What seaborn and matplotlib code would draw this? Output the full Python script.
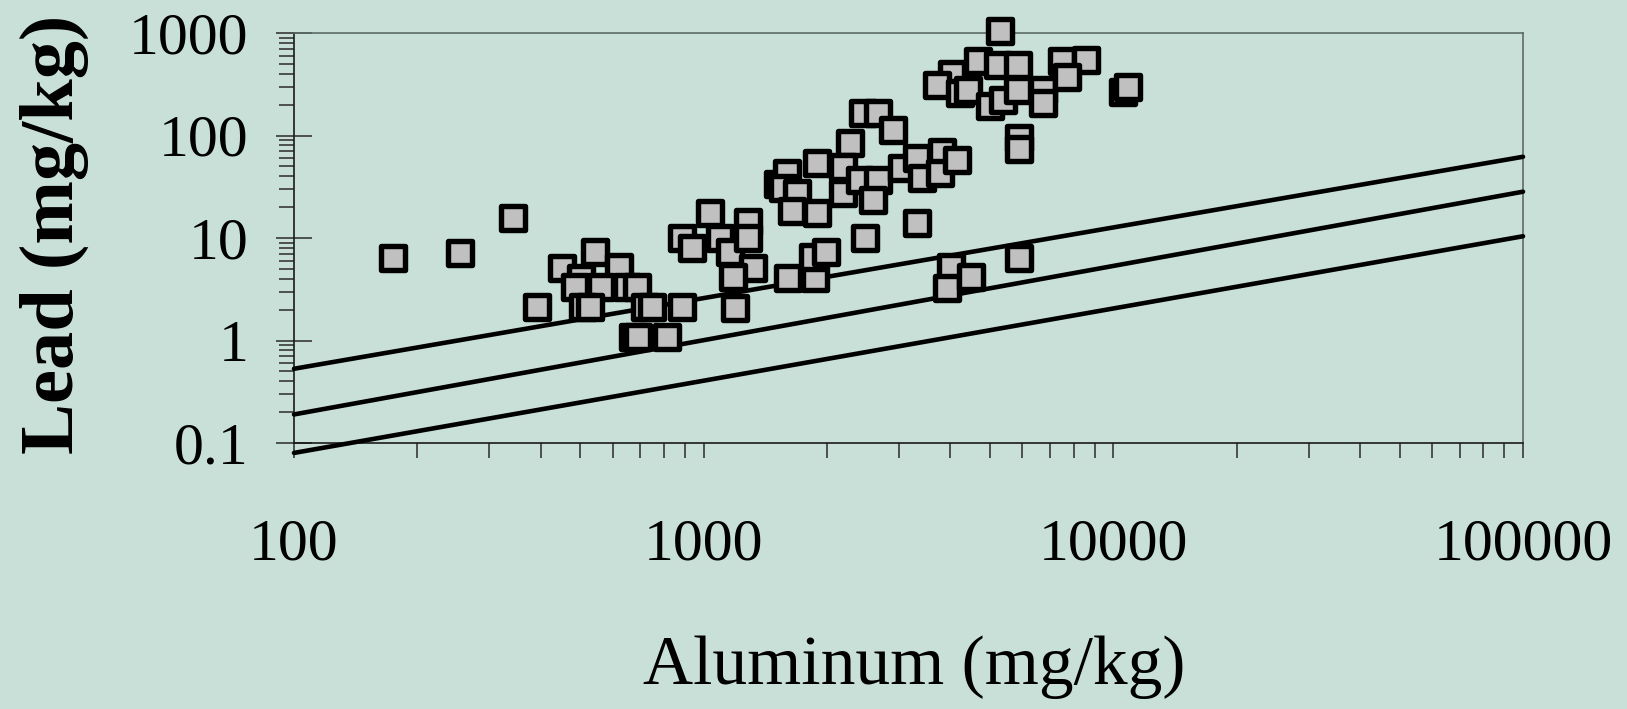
import matplotlib
matplotlib.use("Agg")
import matplotlib.pyplot as plt
import pandas as pd
import seaborn as sns
from matplotlib.markers import MarkerStyle
from matplotlib.ticker import FixedLocator, FixedFormatter, LogLocator, NullFormatter

# Soil samples: aluminum vs lead concentration (mg/kg)
aluminum = [174, 254, 342, 392, 450, 543, 621, 501, 485, 561, 507, 528, 649, 686,
            719, 748, 884, 672, 691, 812, 884, 935, 1036, 1096, 1159, 1285, 1285,
            1322, 1181, 1193, 1609, 1870, 1849, 1989, 2476, 3311, 4015, 3919, 4492,
            5892,
            1521, 1594, 1564, 1686, 1643, 1887, 1887, 2276, 2191, 2191, 2407, 2668,
            2594, 2452, 2668, 2902, 3043, 3311, 3405, 3810, 3774, 4146,
            5287, 4679, 4031, 3705, 4224, 4425, 4998, 5387, 5239, 5860, 5860, 6745,
            6745, 7511, 8595, 7691, 10573, 10875, 5892, 5892]
lead = [6.34, 7.14, 15.5, 2.12, 5.15, 7.22, 5.21, 4.10, 3.35, 3.35, 2.12, 2.12,
        3.35, 3.35, 2.12, 2.12, 2.12, 1.09, 1.09, 1.09, 9.94, 7.94, 17.5, 9.94,
        7.35, 14.3, 9.94, 5.10, 4.12, 2.08, 4.04, 4.04, 6.53, 7.22, 9.94, 13.9,
        5.27, 3.25, 4.12, 6.34,
        33.6, 42.8, 30.7, 27.3, 18.3, 17.4, 53.5, 83.9, 49.6, 27.3, 36.8, 36.8,
        23.5, 165, 165, 113, 48.2, 60.3, 38.5, 69.0, 43.1, 57.7,
        1046, 539, 398, 311, 258, 278, 194, 222, 487, 487, 275, 278, 206, 533,
        545, 375, 267, 299, 95, 74]

# Reference lines (power-law bounds) across the aluminum range
line_x = [100, 100000]
line_upper = [0.53, 62]
line_middle = [0.19, 28.3]
line_lower = [0.080, 10.4]

x_ticks = [100, 1000, 10000, 100000]
x_tick_labels = ["100", "1000", "10000", "100000"]
y_ticks = [0.1, 1, 10, 100, 1000]
y_tick_labels = ["0.1", "1", "10", "100", "1000"]

BG = "#C9E0D8"
sns.set_theme(style="ticks", rc={"axes.facecolor": BG, "figure.facecolor": BG})
plt.rcParams["font.family"] = ["Liberation Serif", "DejaVu Serif"]

W, H = 1627, 709
fig = plt.figure(figsize=(W / 100, H / 100), dpi=100)
ax = fig.add_axes([294 / W, 1 - 443 / H, 1229 / W, 410 / H])
ax.set_xscale("log")
ax.set_yscale("log")

for vals in (line_upper, line_middle, line_lower):
    sns.lineplot(x=line_x, y=vals, ax=ax, color="black", linewidth=3.3)
    ln = ax.lines[-1]
    ln.set_clip_on(False)
    ln.set_solid_capstyle("round")
    ln.set_zorder(3)

df = pd.DataFrame({"Aluminum": aluminum, "Lead": lead})
sns.scatterplot(data=df, x="Aluminum", y="Lead", ax=ax,
                marker=MarkerStyle("s", joinstyle="round"), s=320,
                color="#C0C0C0", edgecolor="black", linewidth=3.9,
                clip_on=False, zorder=5)

ax.set_xlim(100, 100000)
ax.set_ylim(0.1, 1000)

ax.xaxis.set_major_locator(FixedLocator(x_ticks))
ax.xaxis.set_major_formatter(FixedFormatter(x_tick_labels))
ax.xaxis.set_minor_locator(LogLocator(base=10, subs=range(2, 10)))
ax.xaxis.set_minor_formatter(NullFormatter())
ax.yaxis.set_major_locator(FixedLocator(y_ticks))
ax.yaxis.set_major_formatter(FixedFormatter(y_tick_labels))
ax.yaxis.set_minor_locator(LogLocator(base=10, subs=range(2, 10)))
ax.yaxis.set_minor_formatter(NullFormatter())

tick_col = "#2a2a2a"
ax.tick_params(axis="x", which="both", direction="out", length=11, width=1.1,
               color=tick_col, labelsize=43, pad=43, labelcolor="black")
ax.tick_params(axis="y", which="major", direction="inout", length=26, width=1.1,
               color=tick_col, labelsize=43, pad=20, labelcolor="black")
ax.tick_params(axis="y", which="minor", direction="out", length=11, width=1.1,
               color=tick_col)

for side in ("left", "bottom"):
    ax.spines[side].set_color("#1a1a1a")
    ax.spines[side].set_linewidth(1.2)
for side in ("top", "right"):
    ax.spines[side].set_color("#5c6c67")
    ax.spines[side].set_linewidth(1.2)

ax.set_xlabel("Aluminum (mg/kg)", fontsize=50, color="black")
ax.xaxis.set_label_coords(0.5045, -0.47)
ax.set_ylabel("Lead (mg/kg)", fontsize=55, fontweight="bold", color="black")
ax.yaxis.set_label_coords(-0.167, 0.51)

fig.savefig("out.png", dpi=100, facecolor=BG)
